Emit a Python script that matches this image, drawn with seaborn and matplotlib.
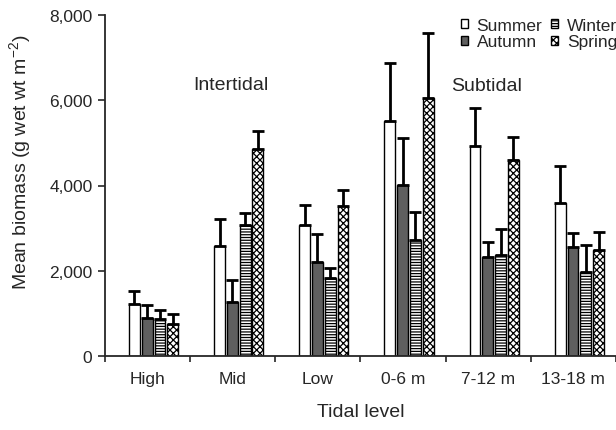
import numpy as np
import pandas as pd
import matplotlib
matplotlib.use("Agg")
import matplotlib.pyplot as plt
from matplotlib.patches import Patch
from matplotlib.ticker import FuncFormatter
import seaborn as sns

# values
levels = ["High", "Mid", "Low", "0-6 m", "7-12 m", "13-18 m"]
seasons = ["Summer", "Autumn", "Winter", "Spring"]
summer = [1220, 2590, 3075, 5520, 4920, 3590]
autumn = [890, 1270, 2200, 4010, 2320, 2550]
winter = [870, 3080, 1820, 2715, 2380, 1980]
spring = [750, 4860, 3510, 6060, 4600, 2490]
summer_err = [305, 630, 475, 1360, 900, 860]
autumn_err = [310, 520, 670, 1110, 360, 340]
winter_err = [210, 270, 240, 655, 590, 630]
spring_err = [240, 410, 390, 1520, 530, 420]

means = [summer, autumn, winter, spring]
errs = [summer_err, autumn_err, winter_err, spring_err]
face = {"Summer": "white", "Autumn": "#5f5f5f", "Winter": "white", "Spring": "white"}
hatch = {"Summer": "", "Autumn": "", "Winter": "------", "Spring": "xxxxx"}

rows = []
for s, vals in zip(seasons, means):
    for lev, v in zip(levels, vals):
        rows.append([lev, s, v])
df = pd.DataFrame(rows, columns=["level", "season", "biomass"])

sns.set_style("ticks")
plt.rcParams["font.family"] = ["Liberation Sans", "DejaVu Sans"]
plt.rcParams["mathtext.default"] = "regular"
plt.rcParams["hatch.linewidth"] = 0.9

fig = plt.figure(figsize=(6.16, 4.31), dpi=100)
ax = fig.add_axes([105 / 616, 1 - 357 / 431, 511 / 616, 341 / 431])

sns.barplot(data=df, x="level", y="biomass", hue="season", order=levels,
            hue_order=seasons, palette=face, saturation=1, width=0.6, gap=0.15,
            edgecolor="black", linewidth=1, errorbar=None, legend=False, ax=ax)

shift = 0.07
bar_groups = list(ax.containers)
for i, cont in enumerate(bar_groups):
    xs = []
    for p in cont.patches:
        p.set_x(p.get_x() + shift)
        p.set_hatch(hatch[seasons[i]])
        p.set_edgecolor("black")
        xs.append(p.get_x() + p.get_width() / 2)
    e = np.array(errs[i])
    ax.errorbar(xs, means[i], yerr=[np.zeros_like(e), e], fmt="none",
                ecolor="black", elinewidth=2, capsize=4.5, capthick=2, zorder=1)

ax.set_xlim(-0.5, 5.5)
ax.set_ylim(0, 8000)
ax.set_yticks([0, 2000, 4000, 6000, 8000])
ax.yaxis.set_major_formatter(FuncFormatter(lambda v, _: f"{int(v):,}"))
ax.set_xticks(np.arange(-0.5, 6, 1))
ax.set_xticklabels([])
ax.set_xticks(np.arange(6), minor=True)
ax.set_xticklabels(levels, minor=True)
ax.tick_params(axis="x", which="minor", length=0, labelsize=12.5, pad=11)
ax.tick_params(axis="x", which="major", length=4, width=1.2)
ax.tick_params(axis="y", length=5, width=1.2, labelsize=12.5, pad=4)
sns.despine(ax=ax)
for sp in ["left", "bottom"]:
    ax.spines[sp].set_linewidth(1.3)
ax.spines["bottom"].set_clip_on(False)

ax.set_xlabel("Tidal level", fontsize=14, labelpad=12)
ax.set_ylabel("Mean biomass (g wet wt m$^{-2}$)", fontsize=14)
ax.yaxis.set_label_coords(-0.14, 0.57)

ax.text(0.98, 6380, "Intertidal", fontsize=14, ha="center", va="center")
ax.text(3.98, 6350, "Subtidal", fontsize=14, ha="center", va="center")

handles = [Patch(facecolor=face[s], edgecolor="black", hatch=hatch[s], label=s)
           for s in seasons]
fig.legend(handles=handles, ncol=2, loc="upper left",
           bbox_to_anchor=(452 / 616, 1 - 10 / 431), frameon=False,
           fontsize=12.5, handlelength=0.42, handleheight=0.42,
           handletextpad=0.5, columnspacing=0.5, labelspacing=0.1,
           borderpad=0)

fig.savefig("out.png", dpi=100)
